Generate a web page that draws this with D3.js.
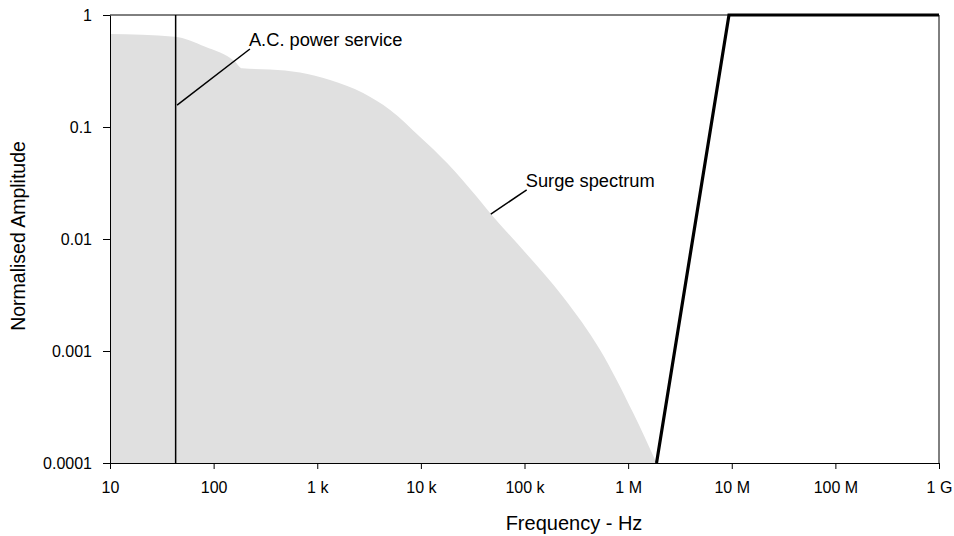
<!DOCTYPE html>
<html><head><meta charset="utf-8">
<script src="https://cdn.jsdelivr.net/npm/d3@7"></script>
<style>body{margin:0;background:#fff}svg text{font-family:Arial,"Liberation Sans",sans-serif;fill:#000}</style>
</head><body><svg id="c" width="954" height="536"></svg>
<script>
// Data
const xTicks = [10,1e2,1e3,1e4,1e5,1e6,1e7,1e8,1e9];
const xTickLabels = ["10","100","1 k","10 k","100 k","1 M","10 M","100 M","1 G"];
const yTicks = [1,0.1,0.01,0.001,0.0001];
const yTickLabels = ["1","0.1","0.01","0.001","0.0001"];
const surgeFreq = [10,42,83,161,188,350,682,1330,2770,5050,9830,17900,34800,46500,96900,236000,537000,1.12e6,1.88e6];
const surgeAmp  = [0.676,0.64,0.521,0.383,0.334,0.326,0.3066,0.263,0.201,0.142,0.0814,0.0477,0.0237,0.0171,0.00798,0.00304,0.00102,0.000279,0.0001];
const limitFreq = [1.88e6,9.4e6,1e9];
const limitAmp  = [0.0001,1,1];
const acFreq = 43;
const annotations = [
  {text:"A.C. power service", from:[44.4,0.157], to:[224,0.497]},
  {text:"Surge spectrum", from:[47300,0.0167], to:[105000,0.0274]}
];

const svg = d3.select("#c");
const L=110,R=939,T=15,B=463;
const x = d3.scaleLog().domain([10,1e9]).range([L,R]);
const y = d3.scaleLog().domain([1e-4,1]).range([B,T]);

// surge area
const surge = surgeFreq.map((f,i)=>({f,a:surgeAmp[i]}));
svg.append("path").datum(surge)
  .attr("fill","#e0e0e0")
  .attr("d", d3.area().x(d=>x(d.f)).y0(B).y1(d=>y(d.a)).curve(d3.curveMonotoneX));

// frame top/right
svg.append("line").attr("x1",L).attr("x2",R).attr("y1",T).attr("y2",T).attr("stroke","#000").attr("stroke-width",1);
svg.append("line").attr("x1",R).attr("x2",R).attr("y1",T).attr("y2",B).attr("stroke","#000").attr("stroke-width",1);

// AC line
svg.append("line").attr("x1",x(acFreq)).attr("x2",x(acFreq)).attr("y1",y(1e-4)).attr("y2",y(1))
  .attr("stroke","#000").attr("stroke-width",1.5);

// limit line
const lim = limitFreq.map((f,i)=>({f,a:limitAmp[i]}));
svg.append("path").datum(lim).attr("fill","none").attr("stroke","#000").attr("stroke-width",3.2)
  .attr("stroke-linejoin","miter")
  .attr("d", d3.line().x(d=>x(d.f)).y(d=>y(d.a)));

// axes
const xa = svg.append("g").attr("transform",`translate(0,${B})`)
  .call(d3.axisBottom(x).tickValues(xTicks).tickFormat((d,i)=>xTickLabels[i]).tickSize(6).tickPadding(13).tickSizeOuter(0));
const ya = svg.append("g").attr("transform",`translate(${L},0)`)
  .call(d3.axisLeft(y).tickValues(yTicks).tickFormat((d,i)=>yTickLabels[i]).tickSize(7).tickPadding(11).tickSizeOuter(0));
[xa,ya].forEach(g=>{
  g.selectAll("path,line").attr("stroke","#000");
  g.selectAll("text").style("font-size","16px").attr("fill","#000");
});

// annotations
annotations.forEach(a=>{
  svg.append("line").attr("x1",x(a.from[0])).attr("y1",y(a.from[1]))
    .attr("x2",x(a.to[0])).attr("y2",y(a.to[1])).attr("stroke","#000").attr("stroke-width",1.5);
  svg.append("text").attr("x",x(a.to[0])-1).attr("y",y(a.to[1])-3)
    .style("font-size","18.3px").text(a.text);
});

// titles
svg.append("text").attr("x",574).attr("y",530).attr("text-anchor","middle").style("font-size","20px").text("Frequency - Hz");
svg.append("text").attr("transform",`translate(25,236) rotate(-90)`).attr("text-anchor","middle").style("font-size","19.5px").text("Normalised Amplitude");
</script></body></html>
